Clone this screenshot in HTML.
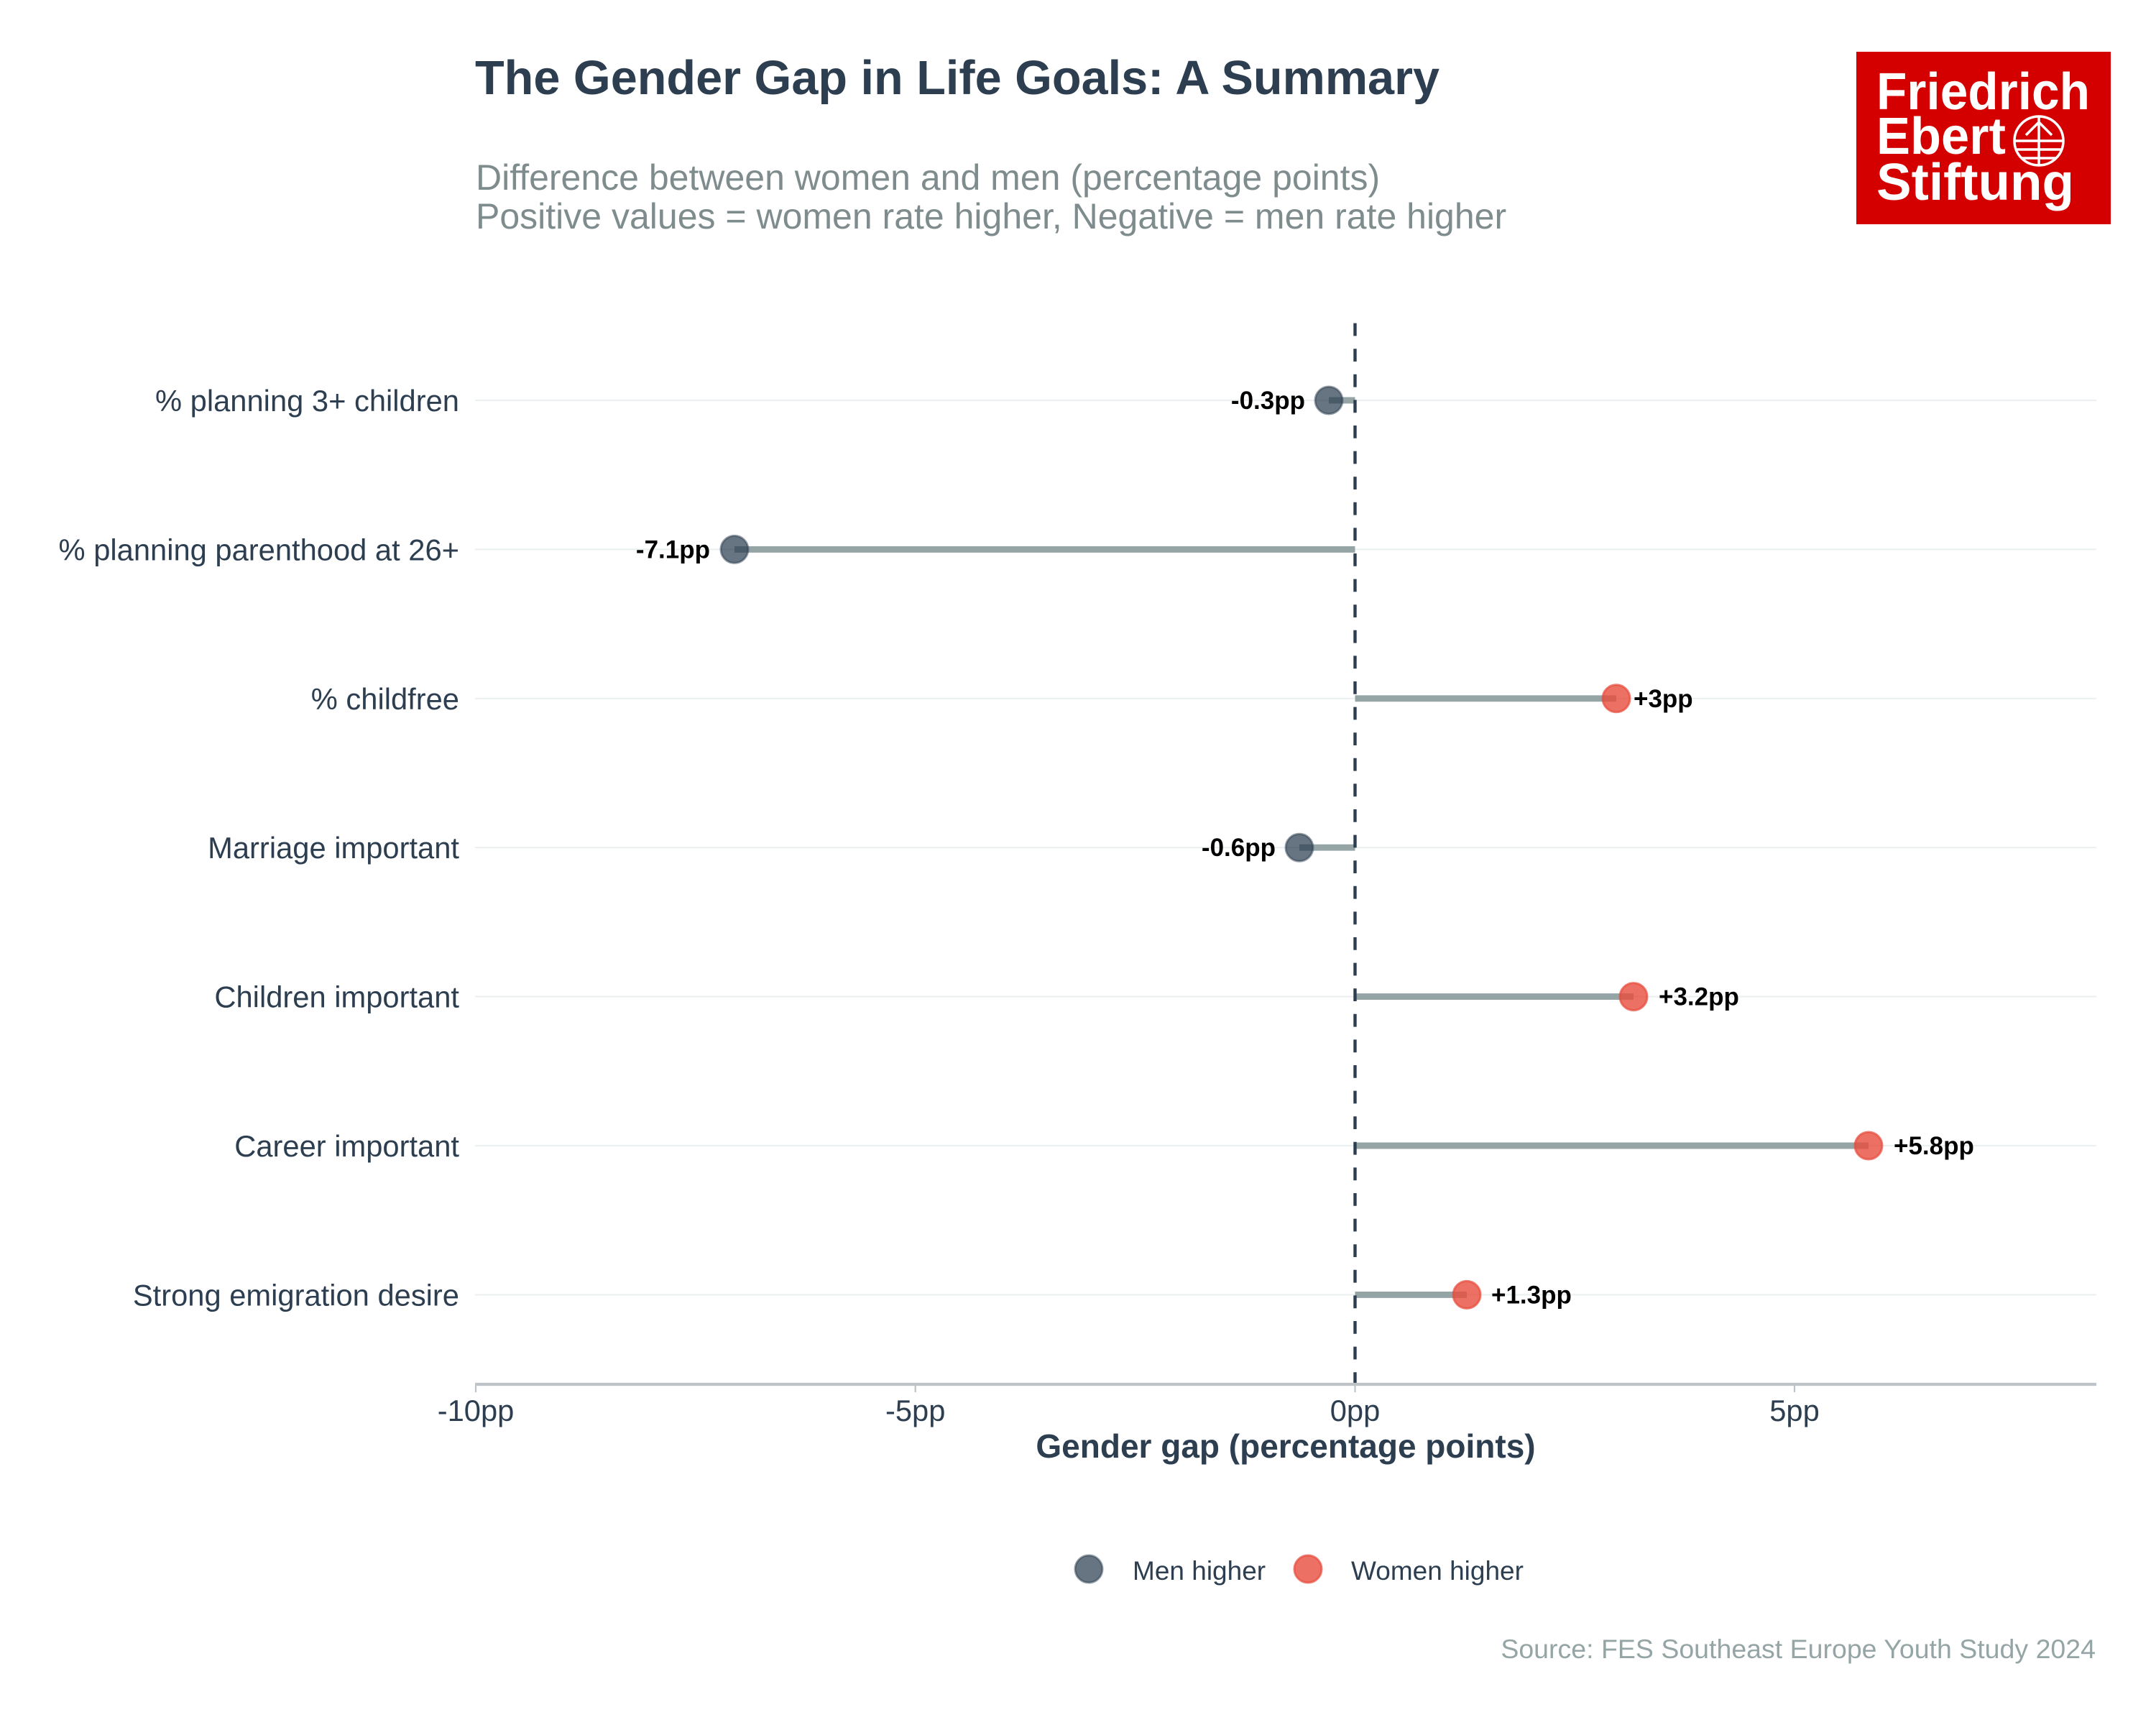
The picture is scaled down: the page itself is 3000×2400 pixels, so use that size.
<!DOCTYPE html>
<html>
<head>
<meta charset="utf-8">
<style>
  html,body{margin:0;padding:0;background:#ffffff;}
  svg{display:block;}
  text{font-family:"Liberation Sans", Arial, Helvetica, sans-serif;}
</style>
</head>
<body>
<svg xmlns="http://www.w3.org/2000/svg" width="3000" height="2400" viewBox="0 0 3000 2400">
  <rect x="0" y="0" width="3000" height="2400" fill="#ffffff"/>

  <!-- Title & subtitle -->
  <text x="661" y="131" font-size="66.6" font-weight="bold" fill="#2c3e50">The Gender Gap in Life Goals: A Summary</text>
  <text x="662" y="264" font-size="50" fill="#7f8c8d">Difference between women and men (percentage points)</text>
  <text x="662" y="318" font-size="50" fill="#7f8c8d">Positive values = women rate higher, Negative = men rate higher</text>

  <!-- Logo -->
  <rect x="2583" y="72" width="354" height="240" fill="#d40000"/>
  <text x="2611" y="152" font-size="72" font-weight="bold" fill="#ffffff" textLength="297" lengthAdjust="spacingAndGlyphs">Friedrich</text>
  <text x="2611" y="214" font-size="72" font-weight="bold" fill="#ffffff" textLength="180" lengthAdjust="spacingAndGlyphs">Ebert</text>
  <text x="2611" y="278" font-size="72" font-weight="bold" fill="#ffffff" textLength="275" lengthAdjust="spacingAndGlyphs">Stiftung</text>
  <g stroke="#ffffff" stroke-width="3.5" fill="none">
    <circle cx="2837" cy="196" r="34"/>
    <line x1="2837" y1="163" x2="2837" y2="229"/>
    <polyline points="2819,188 2837,170 2855,188"/>
    <line x1="2803" y1="196" x2="2871" y2="196"/>
    <line x1="2805" y1="208" x2="2869" y2="208"/>
    <line x1="2812" y1="220" x2="2862" y2="220"/>
  </g>

  <!-- Gridlines -->
  <g stroke="#ecf0f1" stroke-width="2.2">
    <line x1="661" y1="557" x2="2917" y2="557"/>
    <line x1="661" y1="764.4" x2="2917" y2="764.4"/>
    <line x1="661" y1="971.8" x2="2917" y2="971.8"/>
    <line x1="661" y1="1179.2" x2="2917" y2="1179.2"/>
    <line x1="661" y1="1386.6" x2="2917" y2="1386.6"/>
    <line x1="661" y1="1594" x2="2917" y2="1594"/>
    <line x1="661" y1="1801.4" x2="2917" y2="1801.4"/>
  </g>

  <!-- Y labels -->
  <g font-size="41.7" fill="#2c3e50" text-anchor="end">
    <text x="639" y="572">% planning 3+ children</text>
    <text x="639" y="779.4">% planning parenthood at 26+</text>
    <text x="639" y="986.8">% childfree</text>
    <text x="639" y="1194.2">Marriage important</text>
    <text x="639" y="1401.6">Children important</text>
    <text x="639" y="1609">Career important</text>
    <text x="639" y="1816.4">Strong emigration desire</text>
  </g>

  <!-- Segments -->
  <g stroke="#95a5a6" stroke-width="8.9" stroke-linecap="butt">
    <line x1="1885.5" y1="557" x2="1849" y2="557"/>
    <line x1="1885.5" y1="764.4" x2="1022" y2="764.4"/>
    <line x1="1885.5" y1="971.8" x2="2249" y2="971.8"/>
    <line x1="1885.5" y1="1179.2" x2="1808" y2="1179.2"/>
    <line x1="1885.5" y1="1386.6" x2="2273" y2="1386.6"/>
    <line x1="1885.5" y1="1594" x2="2600" y2="1594"/>
    <line x1="1885.5" y1="1801.4" x2="2041" y2="1801.4"/>
  </g>

  <!-- Zero dashed line -->
  <line x1="1885.5" y1="1927" x2="1885.5" y2="433" stroke="#2c3e50" stroke-width="4.4" stroke-dasharray="17.8 17.8"/>

  <!-- Points -->
  <g fill="#2c3e50" fill-opacity="0.72" stroke="#2c3e50" stroke-opacity="0.5" stroke-width="3">
    <circle cx="1849" cy="557" r="19"/>
    <circle cx="1022" cy="764.4" r="19"/>
    <circle cx="1808" cy="1179.2" r="19"/>
  </g>
  <g fill="#e74c3c" fill-opacity="0.8" stroke="#e74c3c" stroke-opacity="0.7" stroke-width="3">
    <circle cx="2249" cy="971.8" r="19"/>
    <circle cx="2273" cy="1386.6" r="19"/>
    <circle cx="2600" cy="1594" r="19"/>
    <circle cx="2041" cy="1801.4" r="19"/>
  </g>

  <!-- Data labels -->
  <g font-size="35" font-weight="bold" fill="#000000">
    <text x="1816" y="569" text-anchor="end">-0.3pp</text>
    <text x="988" y="776.4" text-anchor="end">-7.1pp</text>
    <text x="2273" y="983.8">+3pp</text>
    <text x="1775" y="1191.2" text-anchor="end">-0.6pp</text>
    <text x="2308" y="1398.6">+3.2pp</text>
    <text x="2635" y="1606">+5.8pp</text>
    <text x="2075" y="1813.4">+1.3pp</text>
  </g>

  <!-- X axis -->
  <line x1="661" y1="1926" x2="2917" y2="1926" stroke="#bdc3c7" stroke-width="4.2"/>
  <g stroke="#bdc3c7" stroke-width="2.2">
    <line x1="662" y1="1928" x2="662" y2="1937"/>
    <line x1="1273.7" y1="1928" x2="1273.7" y2="1937"/>
    <line x1="1885.5" y1="1928" x2="1885.5" y2="1937"/>
    <line x1="2497" y1="1928" x2="2497" y2="1937"/>
  </g>
  <g font-size="41.7" fill="#2c3e50" text-anchor="middle">
    <text x="662" y="1977">-10pp</text>
    <text x="1273.7" y="1977">-5pp</text>
    <text x="1885.5" y="1977">0pp</text>
    <text x="2497" y="1977">5pp</text>
  </g>
  <text x="1789" y="2028" font-size="46" font-weight="bold" fill="#2c3e50" text-anchor="middle">Gender gap (percentage points)</text>

  <!-- Legend -->
  <circle cx="1515" cy="2183" r="19" fill="#2c3e50" fill-opacity="0.72" stroke="#2c3e50" stroke-opacity="0.5" stroke-width="3"/>
  <text x="1576" y="2198" font-size="37" fill="#2c3e50">Men higher</text>
  <circle cx="1820" cy="2183" r="19" fill="#e74c3c" fill-opacity="0.8" stroke="#e74c3c" stroke-opacity="0.7" stroke-width="3"/>
  <text x="1880" y="2198" font-size="37" fill="#2c3e50">Women higher</text>

  <!-- Source -->
  <text x="2916" y="2307" font-size="37.5" fill="#95a5a6" text-anchor="end">Source: FES Southeast Europe Youth Study 2024</text>
</svg>
</body>
</html>
